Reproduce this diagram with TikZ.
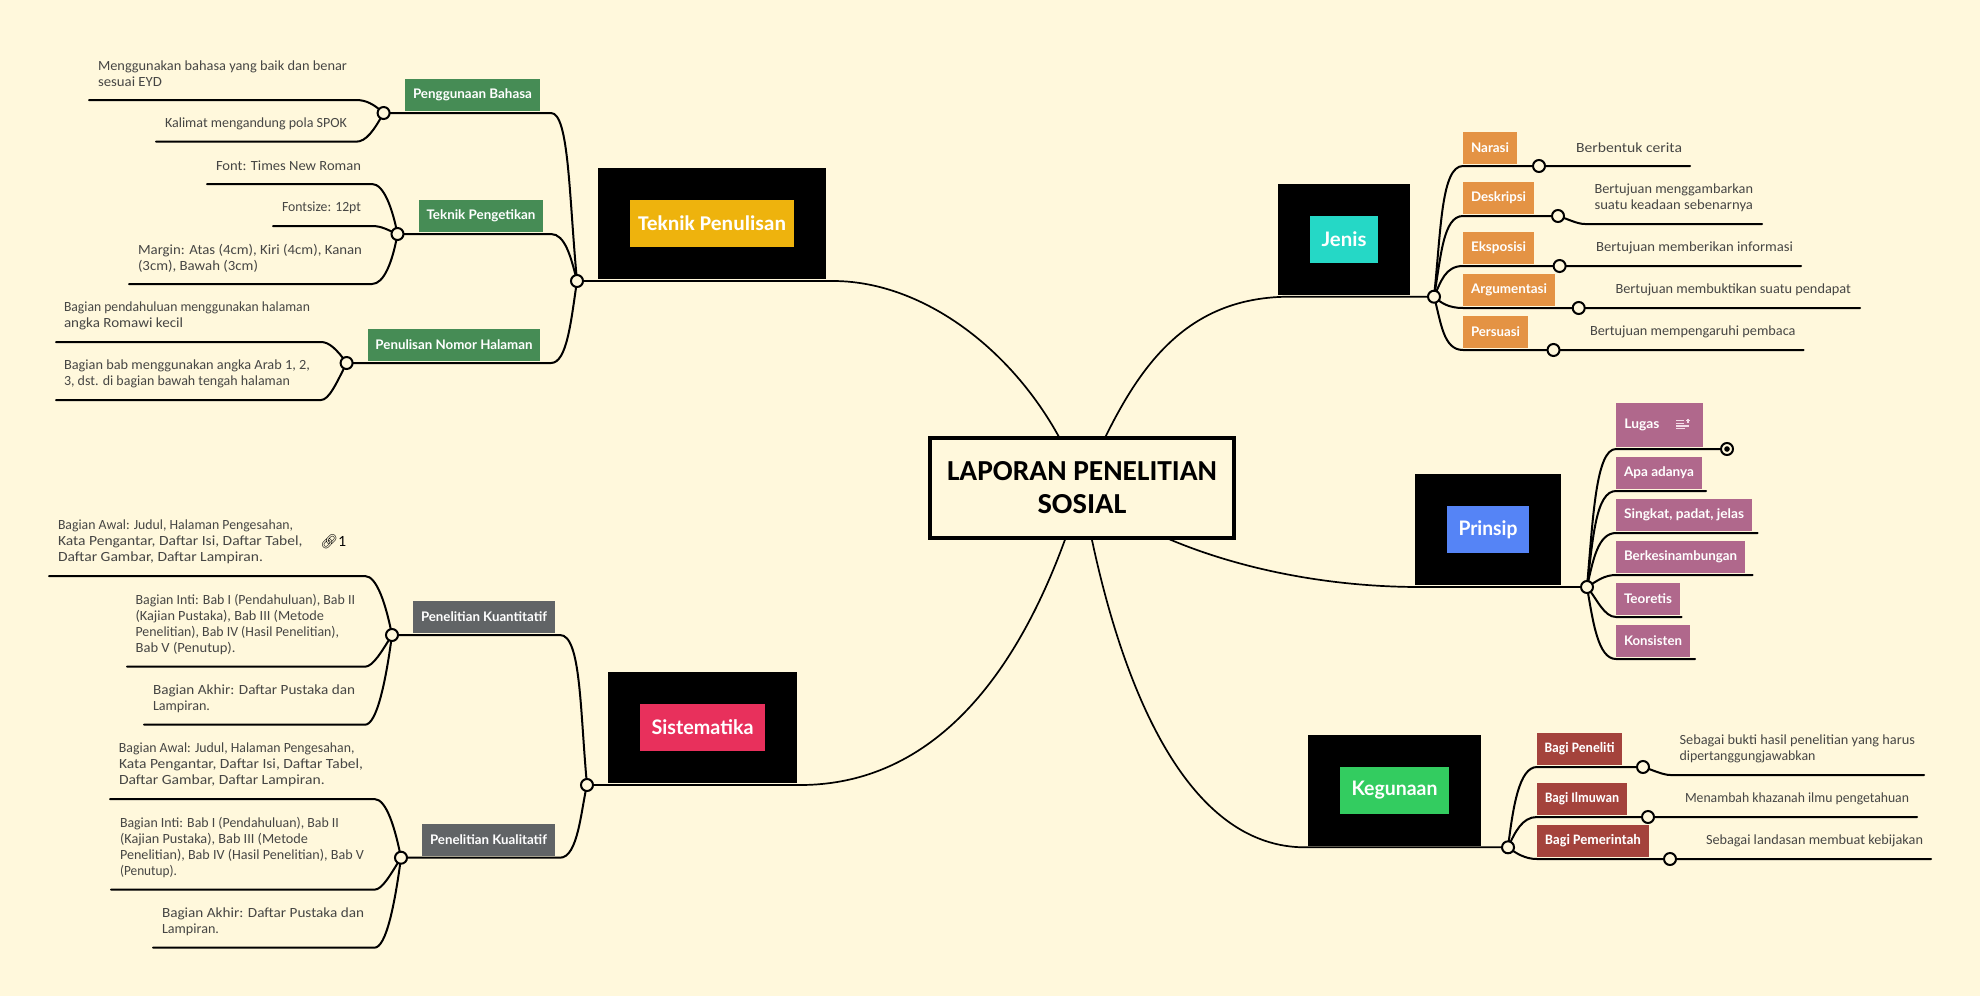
\documentclass[tikz,border=0pt]{standalone}
\usepackage{graphicx}
\usepackage{fontspec}
\setmainfont{Carlito}
\newfontfamily\lblfont{Lato}
\newfontfamily\emofont{Noto Emoji}
\definecolor{bgc}{HTML}{FFF8DC}
\definecolor{inkc}{HTML}{464644}
\definecolor{cgreen}{HTML}{468C55}
\definecolor{corange}{HTML}{E49344}
\definecolor{cpink}{HTML}{B0688C}
\definecolor{cred}{HTML}{A4433C}
\definecolor{cgrey}{HTML}{616466}
\definecolor{cgold}{HTML}{EEB30D}
\definecolor{cteal}{HTML}{25D8C6}
\definecolor{cblue}{HTML}{5584F6}
\definecolor{cemer}{HTML}{33CC60}
\definecolor{ccrim}{HTML}{E8305C}
\definecolor{ciconc}{HTML}{F3DCE8}
\pgfdeclarelayer{bgl}
\pgfsetlayers{bgl,main}
\tikzset{
  conn/.style={draw=black,line width=1pt,line cap=round},
  mainconn/.style={draw=black,line width=0.85pt,line cap=round},
  boxst/.style={draw=none,inner sep=0pt,outer sep=0pt,text=white},
  blackbox/.style={fill=black,draw=none,inner sep=0pt,outer sep=0pt},
  junc/.style={circle,draw=black,fill=bgc,line width=1pt,minimum size=6pt,inner sep=0pt,outer sep=0pt},
  handtext/.style={anchor=west,inner sep=0pt,outer sep=0pt,align=left,text=inkc,font=\fontsize{7}{8}\selectfont},
  rootst/.style={draw=black,fill=bgc,line width=1.8pt,inner sep=0pt,outer sep=0pt,minimum width=152pt,minimum height=50pt,align=center,font=\bfseries\fontsize{14.5}{16.5}\selectfont}
}
% name x1 y1 x2 y2 color fontcommand text-width text
\newcommand\boxnode[9]{%
  \node[boxst,fill=#6,minimum width={(#4-#2)*0.5pt},minimum height={(#5-#3)*0.5pt}] (#1) at ({(#2+#4)/2},{(#3+#5)/2})
   {#7\resizebox{\dimexpr #8pt/2\relax}{\height}{#9}};}
\newcommand\blackrect[5]{%
  \node[blackbox,minimum width={(#4-#2)*0.5pt},minimum height={(#5-#3)*0.5pt}] (#1) at ({(#2+#4)/2},{(#3+#5)/2}) {};}
\newcommand\juncnode[3]{\node[junc] (#1) at (#2,#3) {};}
\newcommand\Ln[2]{\resizebox{\dimexpr #1pt/2\relax}{\height}{#2}}
\newcommand\handnode[4]{\node[handtext] (#1) at (#2,#3) {#4};}
\newcommand\smallfnt{\lblfont\bfseries\fontsize{6.6}{8}\selectfont}
\newcommand\bigfnt{\lblfont\bfseries\fontsize{10}{12}\selectfont}
\newcommand\bagifnt{\bfseries\fontsize{7.2}{8}\selectfont}
\begin{document}
\begin{tikzpicture}[x=0.5pt,y=-0.5pt]
\useasboundingbox (0,0) rectangle (1980,996);
\begin{pgfonlayer}{bgl}
  \fill[bgc] (0,0) rectangle (1980,996);
\end{pgfonlayer}

% black squares and main topics
\blackrect{kT}{598}{168}{826}{279}
\boxnode{mT}{630}{200}{794}{247}{cgold}{\bfseries\fontsize{10.5}{12}\selectfont}{148}{Teknik Penulisan}
\blackrect{kJ}{1278}{184}{1410}{295}
\boxnode{mJ}{1310}{216}{1378}{263}{cteal}{\bigfnt}{45}{Jenis}
\blackrect{kP}{1415}{474}{1561}{585}
\boxnode{mP}{1447}{506}{1529}{553}{cblue}{\bigfnt}{59}{Prinsip}
\blackrect{kK}{1308}{735}{1481}{846}
\boxnode{mK}{1340}{767}{1449}{814}{cemer}{\bigfnt}{86}{Kegunaan}
\blackrect{kS}{608}{672}{797}{783}
\boxnode{mS}{640}{704}{765}{751}{ccrim}{\bigfnt}{102}{Sistematika}

% root
\node[rootst] (root) at (1082,488) {\resizebox{135pt}{\height}{LAPORAN PENELITIAN}\\\resizebox{44.5pt}{\height}{SOSIAL}};

% junctions
\juncnode{hT}{577}{281}
\juncnode{hJ}{1434}{296.7}
\juncnode{hP}{1587}{587}
\juncnode{hK}{1508}{847.3}
\juncnode{hS}{587}{785}
\juncnode{c1}{383.6}{113}
\juncnode{c2}{397.5}{234}
\juncnode{c3}{346.6}{363}
\juncnode{cJa}{1539}{166}
\juncnode{cJb}{1558}{216}
\juncnode{cJc}{1559.6}{266}
\juncnode{cJd}{1578.7}{308}
\juncnode{cJe}{1553.5}{350}
\juncnode{cPa}{1727}{449}
\juncnode{cKa}{1643}{767}
\juncnode{cKb}{1648}{817}
\juncnode{cKc}{1670}{859}
\juncnode{cSa}{392}{635}
\juncnode{cSb}{401}{857.7}
\fill[black] (cPa.center) circle (1.4pt);

% subtopics
\boxnode{b1}{405}{79}{540}{111}{cgreen}{\smallfnt}{119}{Penggunaan Bahasa}
\boxnode{b2}{419}{200}{543}{232}{cgreen}{\smallfnt}{109}{Teknik Pengetikan}
\boxnode{b3}{368}{329}{540}{361}{cgreen}{\smallfnt}{157}{Penulisan Nomor Halaman}
\boxnode{bJa}{1463}{132}{1517}{164}{corange}{\smallfnt}{38}{Narasi}
\boxnode{bJb}{1463}{182}{1534}{214}{corange}{\smallfnt}{55}{Deskripsi}
\boxnode{bJc}{1463}{232}{1534}{264}{corange}{\smallfnt}{55}{Eksposisi}
\boxnode{bJd}{1463}{274}{1555}{306}{corange}{\smallfnt}{76}{Argumentasi}
\boxnode{bJe}{1463}{316}{1528}{348}{corange}{\smallfnt}{49}{Persuasi}
\node[boxst,fill=cpink,minimum width=43.5pt,minimum height=22pt] (bPa) at (1659.5,425) {};
\node[anchor=west,inner sep=0pt,text=white] (tPa) at (1624,425) {\smallfnt\resizebox{17.5pt}{\height}{Lugas}};
\boxnode{bPb}{1616}{457}{1702}{489}{cpink}{\smallfnt}{70}{Apa adanya}
\boxnode{bPc}{1616}{499}{1752}{531}{cpink}{\smallfnt}{120}{Singkat, padat, jelas}
\boxnode{bPd}{1616}{541}{1745}{573}{cpink}{\smallfnt}{113}{Berkesinambungan}
\boxnode{bPe}{1616}{583}{1680}{615}{cpink}{\smallfnt}{48}{Teoretis}
\boxnode{bPf}{1616}{625}{1690}{657}{cpink}{\smallfnt}{58}{Konsisten}
\boxnode{bKa}{1537}{733}{1622}{765}{cred}{\bagifnt}{70}{Bagi Peneliti}
\boxnode{bKb}{1537}{783}{1627}{815}{cred}{\bagifnt}{74}{Bagi Ilmuwan}
\boxnode{bKc}{1537}{825}{1649}{857}{cred}{\bagifnt}{96}{Bagi Pemerintah}
\boxnode{bSa}{413}{601}{555}{633}{cgrey}{\smallfnt}{126}{Penelitian Kuantitatif}
\boxnode{bSb}{422}{824}{555}{856}{cgrey}{\smallfnt}{117}{Penelitian Kualitatif}

% Lugas icon
\draw[ciconc,line width=0.6pt] (1676,420.7) -- (1684,420.7) (1676,423.3) -- (1684,423.3) (1676,426) -- (1689,426) (1676,428.7) -- (1685,428.7)
  (1686,420.5) -- (1690,420.5) (1688,418.5) -- (1688,422.5);

% leaf texts
\handnode{t11}{98}{74}{\Ln{249}{Menggunakan bahasa yang baik dan benar}\\\Ln{64}{sesuai EYD}}
\handnode{t12}{165}{124}{\Ln{182}{Kalimat mengandung pola SPOK}}
\handnode{t21}{216}{166}{\Ln{145}{Font: Times New Roman}}
\handnode{t22}{282}{208}{\Ln{79}{Fontsize: 12pt}}
\handnode{t23}{138}{258}{\Ln{224}{Margin: Atas (4cm), Kiri (4cm), Kanan}\\\Ln{120}{(3cm), Bawah (3cm)}}
\handnode{t31}{64}{316}{\Ln{246}{Bagian pendahuluan menggunakan halaman}\\\Ln{119}{angka Romawi kecil}}
\handnode{t32}{64}{374}{\Ln{246}{Bagian bab menggunakan angka Arab 1, 2,}\\\Ln{226}{3, dst. di bagian bawah tengah halaman}}
\handnode{tJa}{1576}{148}{\Ln{106}{Berbentuk cerita}}
\handnode{tJb}{1594.5}{198}{\Ln{158.5}{Bertujuan menggambarkan}\\\Ln{158.5}{suatu keadaan sebenarnya}}
\handnode{tJc}{1596}{248}{\Ln{197}{Bertujuan memberikan informasi}}
\handnode{tJd}{1615.5}{290}{\Ln{235.5}{Bertujuan membuktikan suatu pendapat}}
\handnode{tJe}{1590}{332}{\Ln{205.5}{Bertujuan mempengaruhi pembaca}}
\handnode{tKa}{1679.5}{749}{\Ln{235.5}{Sebagai bukti hasil penelitian yang harus}\\\Ln{136}{dipertanggungjawabkan}}
\handnode{tKb}{1685}{799}{\Ln{224}{Menambah khazanah ilmu pengetahuan}}
\handnode{tKc}{1706}{841}{\Ln{217}{Sebagai landasan membuat kebijakan}}
\handnode{tSa1}{58}{542}{\Ln{235}{Bagian Awal: Judul, Halaman Pengesahan,}\\\Ln{244.5}{Kata Pengantar, Daftar Isi, Daftar Tabel,}\\\Ln{205}{Daftar Gambar, Daftar Lampiran.}}
\node[anchor=west,inner sep=0pt,text=black] (lnk) at (320,541.5) {{\emofont\fontsize{7}{8}\selectfont 🔗}};
\node[anchor=west,inner sep=0pt,text=black] (lnkn) at (338,541) {\lblfont\fontsize{7}{8}\selectfont 1};
\handnode{tSa2}{135.6}{624.5}{\Ln{219.5}{Bagian Inti: Bab I (Pendahuluan), Bab II}\\\Ln{188.5}{(Kajian Pustaka), Bab III (Metode}\\\Ln{203.5}{Penelitian), Bab IV (Hasil Penelitian),}\\\Ln{100}{Bab V (Penutup).}}
\handnode{tSa3}{153}{699}{\Ln{202}{Bagian Akhir: Daftar Pustaka dan}\\\Ln{57}{Lampiran.}}
\handnode{tSb1}{119}{765}{\Ln{235.5}{Bagian Awal: Judul, Halaman Pengesahan,}\\\Ln{244}{Kata Pengantar, Daftar Isi, Daftar Tabel,}\\\Ln{205.7}{Daftar Gambar, Daftar Lampiran.}}
\handnode{tSb2}{120}{847}{\Ln{219}{Bagian Inti: Bab I (Pendahuluan), Bab II}\\\Ln{188}{(Kajian Pustaka), Bab III (Metode}\\\Ln{244}{Penelitian), Bab IV (Hasil Penelitian), Bab V}\\\Ln{57}{(Penutup).}}
\handnode{tSb3}{162}{922}{\Ln{202}{Bagian Akhir: Daftar Pustaka dan}\\\Ln{57}{Lampiran.}}

% connector helper coordinates
\coordinate (a1) at (551,113);   \coordinate (a2) at (551,234);   \coordinate (a3) at (551,363);
\coordinate (l11) at (356,100);  \coordinate (e11) at (89,100);
\coordinate (l12) at (356,141.7);\coordinate (e12) at (156,141.7);
\coordinate (l21) at (372,184);  \coordinate (e21) at (207,184);
\coordinate (l22) at (372,226);  \coordinate (e22) at (273,226);
\coordinate (l23) at (372,284);  \coordinate (e23) at (129,284);
\coordinate (l31) at (321,342);  \coordinate (e31) at (56,342);
\coordinate (l32) at (321,400);  \coordinate (e32) at (56,400);
\coordinate (pT) at (833,281);   \coordinate (pJ) at (1290,296.7);
\coordinate (pP) at (1420,587);  \coordinate (pK) at (1305,847.3); \coordinate (pS) at (800,785);
\coordinate (aJa) at (1463,166); \coordinate (aJb) at (1463,216); \coordinate (aJc) at (1463,266);
\coordinate (aJd) at (1463,308); \coordinate (aJe) at (1463,350);
\coordinate (eJa) at (1690,166); \coordinate (lJb) at (1585,224); \coordinate (eJb) at (1762,224);
\coordinate (eJc) at (1801,266); \coordinate (eJd) at (1860,308); \coordinate (eJe) at (1803.5,350);
\coordinate (aPa) at (1616,449); \coordinate (aPb) at (1616,491); \coordinate (ePb) at (1706,491);
\coordinate (aPc) at (1616,533); \coordinate (ePc) at (1757.7,533);
\coordinate (aPd) at (1616,575); \coordinate (ePd) at (1752.7,575);
\coordinate (aPe) at (1616,617); \coordinate (ePe) at (1681.7,617);
\coordinate (aPf) at (1616,659); \coordinate (ePf) at (1695,659);
\coordinate (aKa) at (1537,767); \coordinate (lKa) at (1670.6,775); \coordinate (eKa) at (1924,775);
\coordinate (aKb) at (1537,817); \coordinate (eKb) at (1917,817);
\coordinate (aKc) at (1537,859); \coordinate (eKc) at (1931,859);
\coordinate (aSa) at (560,635);  \coordinate (aSb) at (560,857.7);
\coordinate (lSa1) at (365,576); \coordinate (eSa1) at (49,576);
\coordinate (lSa2) at (365,666.7); \coordinate (eSa2) at (127,666.7);
\coordinate (lSa3) at (365,724.7); \coordinate (eSa3) at (144,724.7);
\coordinate (lSb1) at (374.4,799); \coordinate (eSb1) at (110,799);
\coordinate (lSb2) at (374.4,889.7); \coordinate (eSb2) at (111,889.7);
\coordinate (lSb3) at (374.4,947.7); \coordinate (eSb3) at (153,947.7);

\begin{pgfonlayer}{bgl}
  % main curves
  \draw[mainconn] (hT.center) -- (pT) .. controls (935,281) and (1040,370) .. (root.center);
  \draw[mainconn] (root.center) .. controls (1125,390) and (1170,296.7) .. (pJ) -- (hJ.center);
  \draw[mainconn] (root.center) .. controls (1150,545) and (1280,587) .. (pP) -- (hP.center);
  \draw[mainconn] (root.center) .. controls (1108,640) and (1170,847.3) .. (pK) -- (hK.center);
  \draw[mainconn] (root.center) .. controls (1025,680) and (930,785) .. (pS) -- (hS.center);
  % Teknik Penulisan
  \draw[conn] (hT.center) .. controls +(-8,-85) and +(18,0) .. (a1) -- (c1.center);
  \draw[conn] (hT.center) .. controls +(-6,-24) and +(14,0) .. (a2) -- (c2.center);
  \draw[conn] (hT.center) .. controls +(-6,40) and +(16,0) .. (a3) -- (c3.center);
  \draw[conn] (c1.center) .. controls +(-10,-9) and +(10,0) .. (l11) -- (e11);
  \draw[conn] (c1.center) .. controls +(-10,18) and +(10,0) .. (l12) -- (e12);
  \draw[conn] (c2.center) .. controls +(-5,-25) and +(12,0) .. (l21) -- (e21);
  \draw[conn] (c2.center) .. controls +(-10,-4) and +(10,0) .. (l22) -- (e22);
  \draw[conn] (c2.center) .. controls +(-5,28) and +(12,0) .. (l23) -- (e23);
  \draw[conn] (c3.center) .. controls +(-10,-14) and +(8,0) .. (l31) -- (e31);
  \draw[conn] (c3.center) .. controls +(-10,20) and +(8,0) .. (l32) -- (e32);
  % Jenis
  \draw[conn] (hJ.center) .. controls +(7,-65) and +(-22,0) .. (aJa) -- (eJa);
  \draw[conn] (hJ.center) .. controls +(7,-40) and +(-20,0) .. (aJb) -- (cJb.center);
  \draw[conn] (cJb.center) .. controls +(10,3) and +(-8,0) .. (lJb) -- (eJb);
  \draw[conn] (hJ.center) .. controls +(7,-15) and +(-18,0) .. (aJc) -- (eJc);
  \draw[conn] (hJ.center) .. controls +(7,6) and +(-15,0) .. (aJd) -- (eJd);
  \draw[conn] (hJ.center) .. controls +(7,25) and +(-20,0) .. (aJe) -- (eJe);
  % Prinsip
  \draw[conn] (hP.center) .. controls +(6,-70) and +(-20,0) .. (aPa) -- (cPa.center);
  \draw[conn] (hP.center) .. controls +(6,-50) and +(-20,0) .. (aPb) -- (ePb);
  \draw[conn] (hP.center) .. controls +(6,-27) and +(-18,0) .. (aPc) -- (ePc);
  \draw[conn] (hP.center) .. controls +(10,-6) and +(-12,0) .. (aPd) -- (ePd);
  \draw[conn] (hP.center) .. controls +(10,12) and +(-12,0) .. (aPe) -- (ePe);
  \draw[conn] (hP.center) .. controls +(6,35) and +(-18,0) .. (aPf) -- (ePf);
  % Kegunaan
  \draw[conn] (hK.center) .. controls +(5,-40) and +(-18,0) .. (aKa) -- (cKa.center);
  \draw[conn] (cKa.center) .. controls +(10,3) and +(-8,0) .. (lKa) -- (eKa);
  \draw[conn] (hK.center) .. controls +(7,-15) and +(-15,0) .. (aKb) -- (eKb);
  \draw[conn] (hK.center) .. controls +(8,6) and +(-12,0) .. (aKc) -- (eKc);
  % Sistematika
  \draw[conn] (hS.center) .. controls +(-7,-75) and +(21,0) .. (aSa) -- (cSa.center);
  \draw[conn] (hS.center) .. controls +(-6,25) and +(18,0) .. (aSb) -- (cSb.center);
  \draw[conn] (cSa.center) .. controls +(-6,-30) and +(12,0) .. (lSa1) -- (eSa1);
  \draw[conn] (cSa.center) .. controls +(-10,16) and +(8,0) .. (lSa2) -- (eSa2);
  \draw[conn] (cSa.center) .. controls +(-6,45) and +(12,0) .. (lSa3) -- (eSa3);
  \draw[conn] (cSb.center) .. controls +(-6,-30) and +(12,0) .. (lSb1) -- (eSb1);
  \draw[conn] (cSb.center) .. controls +(-10,16) and +(8,0) .. (lSb2) -- (eSb2);
  \draw[conn] (cSb.center) .. controls +(-6,45) and +(12,0) .. (lSb3) -- (eSb3);
\end{pgfonlayer}
\end{tikzpicture}
\end{document}
